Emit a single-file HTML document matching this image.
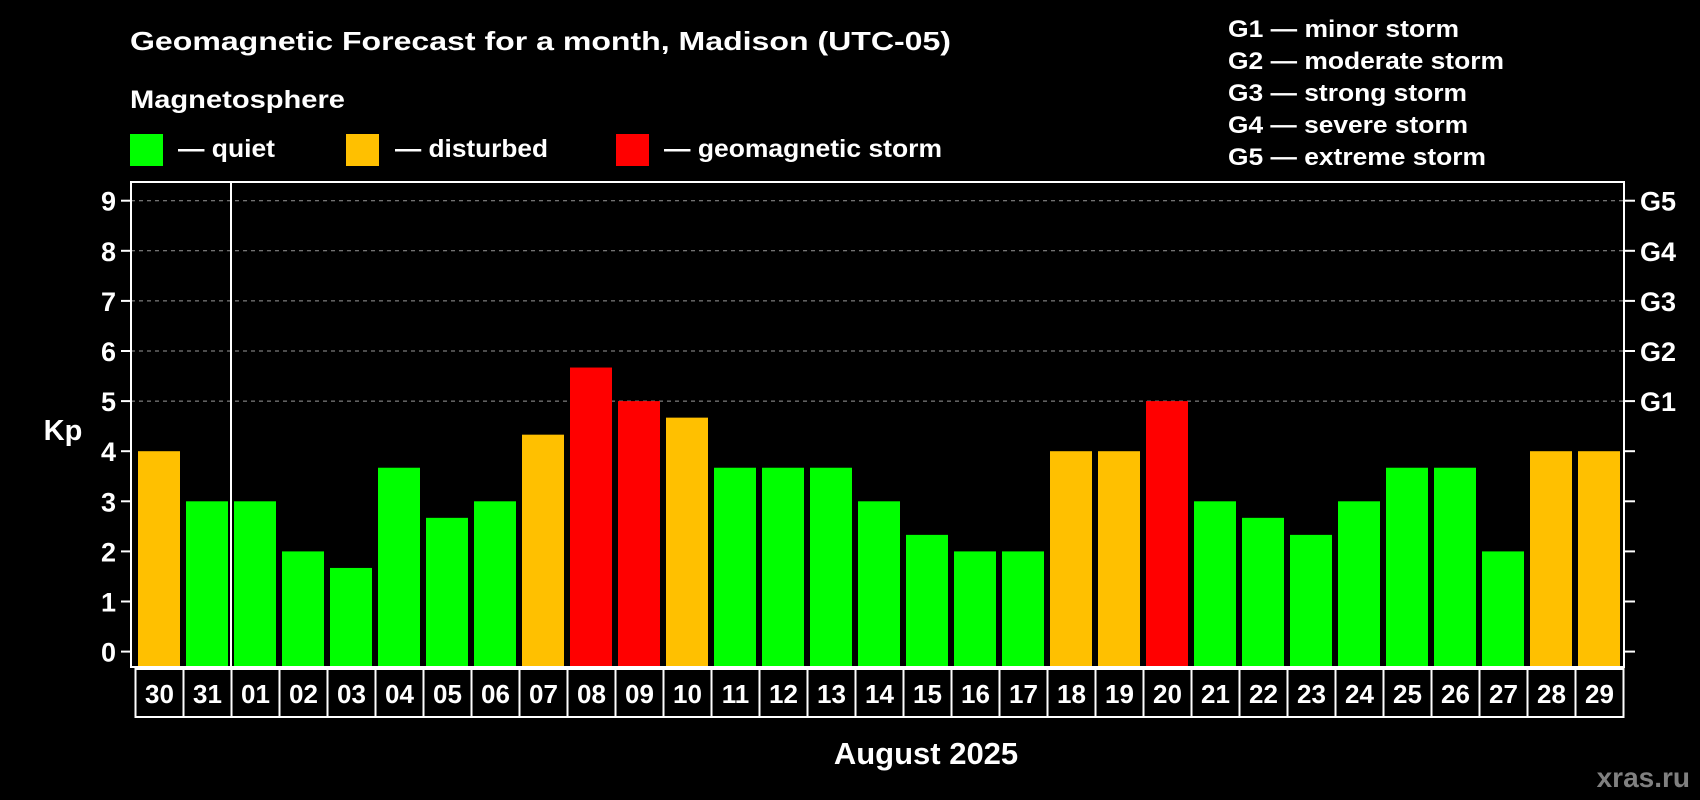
<!DOCTYPE html>
<html><head><meta charset="utf-8"><style>
html,body{margin:0;padding:0;background:#000;}
svg{display:block;font-family:"Liberation Sans",Arial,sans-serif;font-weight:bold;}
</style></head><body>
<svg id="chart" width="1700" height="800" viewBox="0 0 1700 800">
<rect width="1700" height="800" fill="#000"/>
<text x="130" y="50" fill="#fff" font-size="26" textLength="821" lengthAdjust="spacingAndGlyphs">Geomagnetic Forecast for a month, Madison (UTC-05)</text>
<text x="130" y="108" fill="#fff" font-size="25" textLength="215" lengthAdjust="spacingAndGlyphs">Magnetosphere</text>
<g>
<rect x="130" y="134" width="33" height="32" fill="#00ff00"/>
<text x="178" y="157" fill="#fff" font-size="25" textLength="97" lengthAdjust="spacingAndGlyphs">— quiet</text></g>
<g>
<rect x="346" y="134" width="33" height="32" fill="#ffc000"/>
<text x="395" y="157" fill="#fff" font-size="25" textLength="153" lengthAdjust="spacingAndGlyphs">— disturbed</text></g>
<g>
<rect x="616" y="134" width="33" height="32" fill="#ff0000"/>
<text x="664" y="157" fill="#fff" font-size="25" textLength="278" lengthAdjust="spacingAndGlyphs">— geomagnetic storm</text></g>
<g fill="#fff" font-size="24">
<text x="1228" y="37" textLength="231" lengthAdjust="spacingAndGlyphs">G1 — minor storm</text>
<text x="1228" y="69" textLength="276" lengthAdjust="spacingAndGlyphs">G2 — moderate storm</text>
<text x="1228" y="101" textLength="239" lengthAdjust="spacingAndGlyphs">G3 — strong storm</text>
<text x="1228" y="133" textLength="240" lengthAdjust="spacingAndGlyphs">G4 — severe storm</text>
<text x="1228" y="165" textLength="258" lengthAdjust="spacingAndGlyphs">G5 — extreme storm</text>
</g>
<g id="grid"></g>
<g id="bars"></g>
<g id="axes"></g>
<text x="63" y="440" fill="#fff" font-size="29" text-anchor="middle">Kp</text>
<text x="926" y="764" fill="#fff" font-size="31" text-anchor="middle">August 2025</text>
<text x="1690" y="787" fill="#808080" font-size="28" text-anchor="end">xras.ru</text>
</svg>
<script>
const days = ["30","31","01","02","03","04","05","06","07","08","09","10","11","12","13","14","15","16","17","18","19","20","21","22","23","24","25","26","27","28","29"];
const kp = [4,3,3,2,1.67,3.67,2.67,3,4.33,5.67,5,4.67,3.67,3.67,3.67,3,2.33,2,2,4,4,5,3,2.67,2.33,3,3.67,3.67,2,4,4];
const yTicks = [0,1,2,3,4,5,6,7,8,9];
const gLabels = ["G1","G2","G3","G4","G5"];
const gLevels = [5,6,7,8,9];

const NS="http://www.w3.org/2000/svg";
const L=131,R=1624,T=182,B=667;
const y=v=>651.6-v*50.1;
const x=i=>138+i*48;
function mk(tag,attrs,parent,txt){const e=document.createElementNS(NS,tag);for(const k in attrs)e.setAttribute(k,attrs[k]);if(txt!==undefined)e.textContent=txt;parent.appendChild(e);return e;}
const grid=document.getElementById('grid'),bars=document.getElementById('bars'),axes=document.getElementById('axes');
gLevels.forEach((v,i)=>{
  const ln=mk('line',{x1:L,x2:R,y1:y(v),y2:y(v),stroke:'#999','stroke-dasharray':'4,4','stroke-width':1},grid);
  
  
  const t=mk('text',{x:1640,y:y(v)+10,fill:'#fff','font-size':27},axes,gLabels[i]);
  
  
});
kp.forEach((v,i)=>{
  const c=v>=5?'#ff0000':(v>=4?'#ffc000':'#00ff00');
  const r=mk('rect',{x:x(i),y:y(v),width:42,height:B-y(v),fill:c},bars);
  
  
  const cell=mk('rect',{x:135.5+i*48,y:669,width:48,height:48,fill:'none',stroke:'#fff','stroke-width':2},axes);
  
  
  const t=mk('text',{x:159.5+i*48,y:703,fill:'#fff','font-size':26,'text-anchor':'middle'},axes,days[i]);
  
  
});
const fr=mk('rect',{x:L,y:T,width:R-L,height:B-T,fill:'none',stroke:'#fff','stroke-width':2},axes);


const sep=mk('line',{x1:231,x2:231,y1:T,y2:B,stroke:'#fff','stroke-width':2},axes);


yTicks.forEach(v=>{
  const a=mk('line',{x1:121,x2:L,y1:y(v),y2:y(v),stroke:'#fff','stroke-width':2},axes);
  
  
  const b=mk('line',{x1:R,x2:1635,y1:y(v),y2:y(v),stroke:'#fff','stroke-width':2},axes);
  
  
  const t=mk('text',{x:116,y:y(v)+10,fill:'#fff','font-size':27,'text-anchor':'end'},axes,String(v));
  
  
});
</script>
</body></html>
